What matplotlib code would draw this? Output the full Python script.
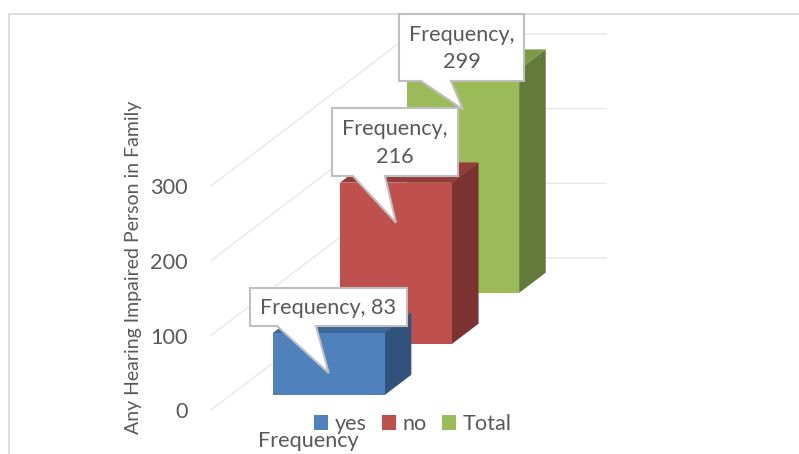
import matplotlib
matplotlib.use('Agg')
import matplotlib.pyplot as plt
from matplotlib.patches import Patch, Polygon

plt.rcParams['font.family'] = ['Lato', 'DejaVu Sans']

# Chart data
series = ['yes', 'no', 'Total']
frequency = [83, 216, 299]
y_ticks = [0, 100, 200, 300]
y_title = 'Any Hearing Impaired Person in Family'
x_title = 'Frequency'

front_colors = ['#4F81BD', '#C0504D', '#9BBB59']
side_colors = ['#30527B', '#7B3230', '#647A39']
top_colors = ['#3E659A', '#943C3A', '#7E9A47']

# Oblique projection of the 3D box, result in figure pixels
ORIGIN_X, ORIGIN_Y = 211, 410
DEPTH_DX, DEPTH_DY = 200, -152
PX_PER_UNIT = 224 / 300
WALL_RIGHT = 606
TEXT_SIZE = 15.6

BAR_LEFT, BAR_WIDTH = 42, 112
BAR_DEPTH = 0.133
FIRST_ROW, ROW_STEP = 0.0987, 0.336


def project(u, d, v):
    return (ORIGIN_X + u + DEPTH_DX * d,
            ORIGIN_Y + DEPTH_DY * d - PX_PER_UNIT * v)


fig = plt.figure(figsize=(7.99, 4.54), dpi=100)
ax = fig.add_axes([0, 0, 1, 1])
ax.set_xlim(0, 799)
ax.set_ylim(454, 0)
ax.axis('off')

# Outer chart border, only the top and left sides show
ax.plot([9, 9, 799], [454, 14, 14], color='#DADADA', lw=1.3, zorder=1)

# Gridlines across the side wall and the back wall
for tick in y_ticks:
    x0, y0 = project(0, 0, tick)
    x1, y1 = project(0, 1, tick)
    ax.plot([x0, x1, WALL_RIGHT], [y0, y1, y1], color='#E6E6E6', lw=0.9, zorder=1)
    ax.text(188, y0 + 2.5, str(tick), ha='right', va='center', fontsize=TEXT_SIZE, color='#595959')

# Bars, back row first
for i in [2, 1, 0]:
    d0 = FIRST_ROW + ROW_STEP * i
    d1 = d0 + BAR_DEPTH
    u0, u1 = BAR_LEFT, BAR_LEFT + BAR_WIDTH
    v = frequency[i]
    front = [project(u0, d0, 0), project(u1, d0, 0), project(u1, d0, v), project(u0, d0, v)]
    side = [project(u1, d0, 0), project(u1, d1, 0), project(u1, d1, v), project(u1, d0, v)]
    top = [project(u0, d0, v), project(u1, d0, v), project(u1, d1, v), project(u0, d1, v)]
    z = 3 + (2 - i)
    ax.add_patch(Polygon(top, closed=True, fc=top_colors[i], ec='none', zorder=z))
    ax.add_patch(Polygon(side, closed=True, fc=side_colors[i], ec='none', zorder=z))
    ax.add_patch(Polygon(front, closed=True, fc=front_colors[i], ec='none', zorder=z))

# Callout boxes: left, top, right, bottom, tail base left and right
callouts = [
    (250, 288, 407, 326, 277, 316),
    (332, 108, 458, 176, 353, 385),
    (399, 14, 524, 81, 421, 451),
]
label_text = ['Frequency, {}', 'Frequency,\n{}', 'Frequency,\n{}']

for i in [2, 1, 0]:
    left, top_y, right, bottom, t0, t1 = callouts[i]
    d0 = FIRST_ROW + ROW_STEP * i
    tip = project(BAR_LEFT + BAR_WIDTH / 2, d0, frequency[i])
    tip = (tip[0], tip[1] + 40)
    outline = [(left, top_y), (right, top_y), (right, bottom), (t1, bottom), tip, (t0, bottom), (left, bottom)]
    z = 10 + (2 - i)
    ax.add_patch(Polygon(outline, closed=True, fc='white', ec='#BFBFBF', lw=1.5, joinstyle='miter', zorder=z))
    ax.text((left + right) / 2, (top_y + bottom) / 2 + 1, label_text[i].format(frequency[i]),
            ha='center', va='center', fontsize=TEXT_SIZE, color='#595959', linespacing=1.45, zorder=z + 0.5)

ax.text(133, 267, y_title, rotation=90, ha='center', va='center', fontsize=14, color='#595959')
ax.text(308, 441, x_title, ha='center', va='center', fontsize=TEXT_SIZE, color='#595959', zorder=20)

handles = [Patch(fc=c, ec='none', label=s) for c, s in zip(front_colors, series)]
ax.legend(handles=handles, ncol=3, loc='center', bbox_to_anchor=(412.5, 424),
          bbox_transform=ax.transData, frameon=False, fontsize=TEXT_SIZE, labelcolor='#595959',
          handlelength=0.65, handleheight=0.65, handletextpad=0.3, columnspacing=0.7,
          borderpad=0, borderaxespad=0)

fig.savefig('out.png', dpi=100)
